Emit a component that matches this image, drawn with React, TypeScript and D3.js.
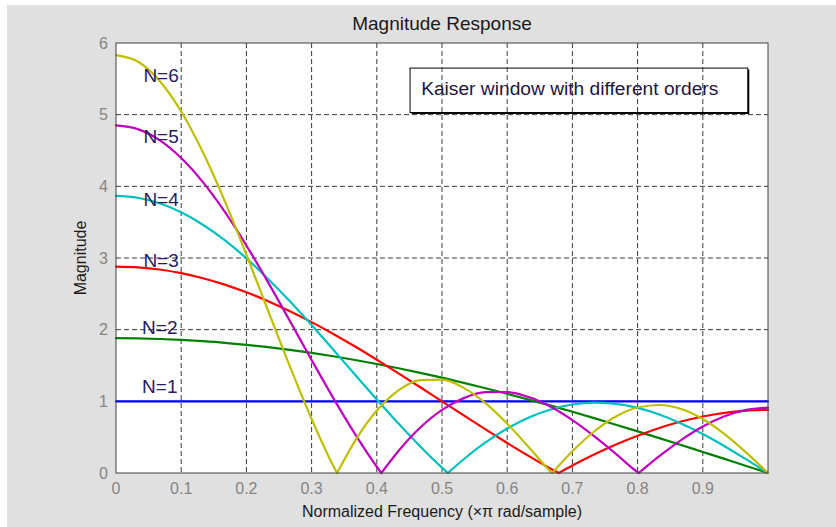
import React from "react";
import * as d3 from "d3";

// Normalized frequency grid (x pi rad/sample)
const FREQ = [
  0, 0.0333, 0.0667, 0.1, 0.1333, 0.1667, 0.2, 0.2333, 0.2667, 0.3, 0.3333,
  0.3667, 0.4, 0.4333, 0.4667, 0.5, 0.5333, 0.5667, 0.6, 0.6333, 0.6667,
  0.7, 0.7333, 0.7667, 0.8, 0.8333, 0.8667, 0.9, 0.9333, 0.9667, 1,
];

// Magnitudes, one array per window order
const MAG_N1 = [
  1, 1, 1, 1, 1, 1, 1, 1, 1, 1, 1, 1, 1, 1, 1, 1, 1, 1, 1, 1, 1, 1, 1, 1, 1,
  1, 1, 1, 1, 1, 1,
];
const MAG_N2 = [
  1.881, 1.878, 1.87, 1.857, 1.839, 1.817, 1.789, 1.756, 1.718, 1.676, 1.629,
  1.577, 1.521, 1.462, 1.398, 1.33, 1.258, 1.183, 1.105, 1.024, 0.94, 0.854,
  0.765, 0.674, 0.581, 0.487, 0.391, 0.294, 0.197, 0.098, 0,
];
const MAG_N3 = [
  2.881, 2.87, 2.84, 2.789, 2.718, 2.629, 2.521, 2.398, 2.258, 2.105, 1.94,
  1.765, 1.581, 1.391, 1.197, 1.0, 0.803, 0.609, 0.419, 0.235, 0.06, 0.105,
  0.258, 0.398, 0.521, 0.629, 0.718, 0.789, 0.84, 0.87, 0.881,
];
const MAG_N4 = [
  3.867, 3.841, 3.764, 3.638, 3.464, 3.249, 2.995, 2.708, 2.396, 2.064, 1.72,
  1.372, 1.026, 0.69, 0.371, 0.075, 0.192, 0.426, 0.621, 0.776, 0.887, 0.956,
  0.981, 0.964, 0.908, 0.816, 0.692, 0.543, 0.374, 0.19, 0,
];
const MAG_N5 = [
  4.85, 4.798, 4.645, 4.395, 4.058, 3.646, 3.175, 2.66, 2.121, 1.577, 1.045,
  0.543, 0.087, 0.308, 0.634, 0.881, 1.045, 1.128, 1.13, 1.06, 0.925, 0.739,
  0.515, 0.267, 0.012, 0.234, 0.459, 0.648, 0.791, 0.88, 0.911,
];
const MAG_N6 = [
  5.832, 5.742, 5.474, 5.044, 4.475, 3.798, 3.048, 2.264, 1.487, 0.754, 0.099,
  0.449, 0.871, 1.154, 1.296, 1.303, 1.188, 0.974, 0.688, 0.359, 0.019, 0.303,
  0.579, 0.788, 0.914, 0.949, 0.893, 0.754, 0.544, 0.285, 0,
];

// Frequencies of the response nulls (magnitude 0)
const NULLS_N1: number[] = [];
const NULLS_N2 = [1];
const NULLS_N3 = [0.679];
const NULLS_N4 = [0.509, 1];
const NULLS_N5 = [0.407, 0.802];
const NULLS_N6 = [0.339, 0.669, 1];

const SERIES_NAMES = ["N=1", "N=2", "N=3", "N=4", "N=5", "N=6"];
// Label anchor (data coords)
const LABEL_X = [0.04, 0.04, 0.042, 0.042, 0.042, 0.042];
const LABEL_Y = [1.12, 1.94, 2.87, 3.73, 4.6, 5.46];

const X_TICKS = [0, 0.1, 0.2, 0.3, 0.4, 0.5, 0.6, 0.7, 0.8, 0.9];
const Y_TICKS = [0, 1, 2, 3, 4, 5, 6];
const GRID_X = [0.1, 0.2, 0.3, 0.4, 0.5, 0.6, 0.7, 0.8, 0.9];
const GRID_Y = [1, 2, 3, 4, 5];

const TITLE = "Magnitude Response";
const X_LABEL = "Normalized Frequency (\u00d7\u03c0 rad/sample)";
const Y_LABEL = "Magnitude";
const NOTE = "Kaiser window with different orders";

const COLORS = ["#0000ff", "#008000", "#ff0000", "#00bfbf", "#bf00bf", "#bfbf00"];
const FONT = "'Liberation Sans', Arial, Helvetica, sans-serif";

const W = 836;
const H = 527;
const PL = 116;
const PR = 768;
const PT = 43;
const PB = 473;

function buildSegments(mag: number[], nulls: number[]): [number, number][][] {
  const pts: [number, number][] = FREQ.map((f, i) => [f, mag[i]]);
  nulls.forEach((n) => {
    if (!pts.some((p) => Math.abs(p[0] - n) < 1e-6)) pts.push([n, 0]);
  });
  pts.sort((a, b) => a[0] - b[0]);
  const segs: [number, number][][] = [];
  let cur: [number, number][] = [];
  pts.forEach((p) => {
    cur.push(p);
    if (p[1] === 0 && cur.length > 1) {
      segs.push(cur);
      cur = [p];
    }
  });
  if (cur.length > 1) segs.push(cur);
  return segs;
}

export default function App() {
  const x = d3.scaleLinear().domain([0, 1]).range([PL, PR]);
  const y = d3.scaleLinear().domain([0, 6]).range([PB, PT]);

  const mags = [MAG_N1, MAG_N2, MAG_N3, MAG_N4, MAG_N5, MAG_N6];
  const nulls = [NULLS_N1, NULLS_N2, NULLS_N3, NULLS_N4, NULLS_N5, NULLS_N6];

  const line = d3
    .line<[number, number]>()
    .x((d) => x(d[0]))
    .y((d) => y(d[1]))
    .curve(d3.curveMonotoneX);

  const paths = mags.map((m, i) =>
    buildSegments(m, nulls[i])
      .map((s) => line(s) || "")
      .join("")
  );

  // annotation box (data coords)
  const bx0 = x(0.451);
  const bx1 = x(0.969);
  const by0 = y(5.65);
  const by1 = y(5.03);

  return (
    <svg
      width={W}
      height={H}
      style={{ position: "fixed", left: 0, top: 0, display: "block" }}
      fontFamily={FONT}
    >
      <rect x={0} y={0} width={W} height={H} fill="#ffffff" />
      <rect x={7} y={5} width={W - 7} height={H - 5} fill="#e0e0e0" />
      <rect x={PL} y={PT} width={PR - PL} height={PB - PT} fill="#ffffff" />

      {/* annotation box */}
      <rect x={bx0 + 1.5} y={by0 + 1.5} width={bx1 - bx0} height={by1 - by0} fill="#000" />
      <rect x={bx0} y={by0} width={bx1 - bx0} height={by1 - by0} fill="#fff" stroke="#000" strokeWidth={1} />
      <text x={x(0.468)} y={y(5.27)} fontSize={19.2} fill="#1e1440">
        {NOTE}
      </text>

      {/* grid */}
      {GRID_X.map((g) => (
        <line key={"gx" + g} x1={x(g)} x2={x(g)} y1={PT} y2={PB} stroke="#3a3a3a" strokeWidth={1} strokeDasharray="5 3" />
      ))}
      {GRID_Y.map((g) => (
        <line key={"gy" + g} x1={PL} x2={PR} y1={y(g)} y2={y(g)} stroke="#3a3a3a" strokeWidth={1} strokeDasharray="5 3" />
      ))}

      {/* curves */}
      {paths.map((d, i) => (
        <path key={"p" + i} d={d} fill="none" stroke={COLORS[i]} strokeWidth={2.2} strokeLinecap="round" strokeLinejoin="round" />
      ))}

      {/* axes box */}
      <rect x={PL} y={PT} width={PR - PL} height={PB - PT} fill="none" stroke="#404040" strokeWidth={1} />

      {/* tick labels */}
      {X_TICKS.map((t) => (
        <text key={"xt" + t} x={x(t)} y={PB + 21} fontSize={16} fill="#858585" textAnchor="middle">
          {String(t)}
        </text>
      ))}
      {Y_TICKS.map((t) => (
        <text key={"yt" + t} x={PL - 8} y={y(t)} fontSize={16} fill="#858585" textAnchor="end" dominantBaseline="central">
          {String(t)}
        </text>
      ))}

      {/* series labels */}
      {SERIES_NAMES.map((s, i) => (
        <text key={"lab" + i} x={x(LABEL_X[i])} y={y(LABEL_Y[i])} fontSize={19} fill="#2a1a5e">
          {s}
        </text>
      ))}

      {/* titles */}
      <text x={(PL + PR) / 2} y={30} fontSize={19} textAnchor="middle" fill="#1a1a1a">
        {TITLE}
      </text>
      <text x={(PL + PR) / 2} y={517} fontSize={16} textAnchor="middle" fill="#1a1a1a">
        {X_LABEL}
      </text>
      <text
        transform={`translate(86, ${(PT + PB) / 2}) rotate(-90)`}
        fontSize={16}
        textAnchor="middle"
        fill="#1a1a1a"
      >
        {Y_LABEL}
      </text>
    </svg>
  );
}
